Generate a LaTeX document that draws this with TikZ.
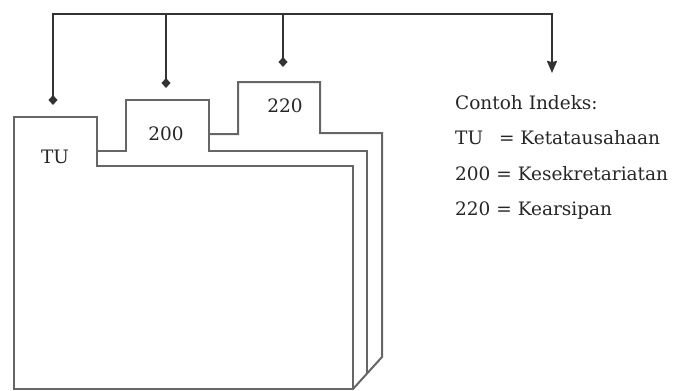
\documentclass[tikz,border=0pt]{standalone}
\usepackage{fontspec}
\setmainfont{DejaVu Serif}
\usepackage{tikz}
\usetikzlibrary{arrows.meta, positioning}
\tikzset{
  folder/.style = {
    draw=black!60, line width=2pt, line join=miter
  },
  tablabel/.style = {
    text=black!85, inner sep=0pt, font=\fontsize{18.5}{20}\selectfont
  },
  legend/.style = {
    text=black!85, inner sep=0pt, anchor=west,
    text height=13pt, text depth=4pt, font=\fontsize{18.5}{20}\selectfont
  },
  bus/.style = {draw=black!80, line width=2pt},
  pinarrow/.style = {bus, -{Diamond[length=10pt,width=9pt]}},
  legarrow/.style = {bus, -{Stealth[length=12pt,width=10pt,inset=1pt]}}
}

\begin{document}
\begin{tikzpicture}[x=1pt, y=-1pt]
  \useasboundingbox (0,0) rectangle (673,391);
  % Folders, back to front
  \draw[folder] (209,134) -- (238,134) -- (238,82) -- (320,82) -- (320,133)
    -- (382,133) -- (382,357) -- (353,389);
  \draw[folder] (97,151) -- (126,151) -- (126,100) -- (209,100) -- (209,151)
    -- (367,151) -- (367,374);
  \draw[folder] (353,166) -- (97,166) -- (97,117) -- (14,117) -- (14,389)
    -- (353,389) -- cycle;
  % Tab labels
  \node[tablabel] (tu)   at (55,157)  {TU};
  \node[tablabel] (f200) at (166,134) {200};
  \node[tablabel] (f220) at (285,106) {220};
  % Legend
  \node[legend] (legtitle) at (455,105) {Contoh Indeks:};
  \node[legend, below=18pt of legtitle.south west, anchor=north west] (legtu)
    {\makebox[38pt][l]{TU} = Ketatausahaan};
  \node[legend, below=18pt of legtu.south west, anchor=north west] (leg200)
    {200 = Kesekretariatan};
  \node[legend, below=18pt of leg200.south west, anchor=north west] (leg220)
    {220 = Kearsipan};
  % Pointers
  \coordinate (tupin)  at (53,105);
  \coordinate (pin200) at (166,88);
  \coordinate (pin220) at (283,67);
  \coordinate (busR)   at (552,14);
  \coordinate (legpin) at (552,73);
  \draw[bus, {Diamond[length=10pt,width=9pt]}-{Stealth[length=12pt,width=10pt,inset=1pt]}]
    (tupin) |- (busR) -- (legpin);
  \draw[pinarrow] (pin200 |- busR) -- (pin200);
  \draw[pinarrow] (pin220 |- busR) -- (pin220);
\end{tikzpicture}
\end{document}
